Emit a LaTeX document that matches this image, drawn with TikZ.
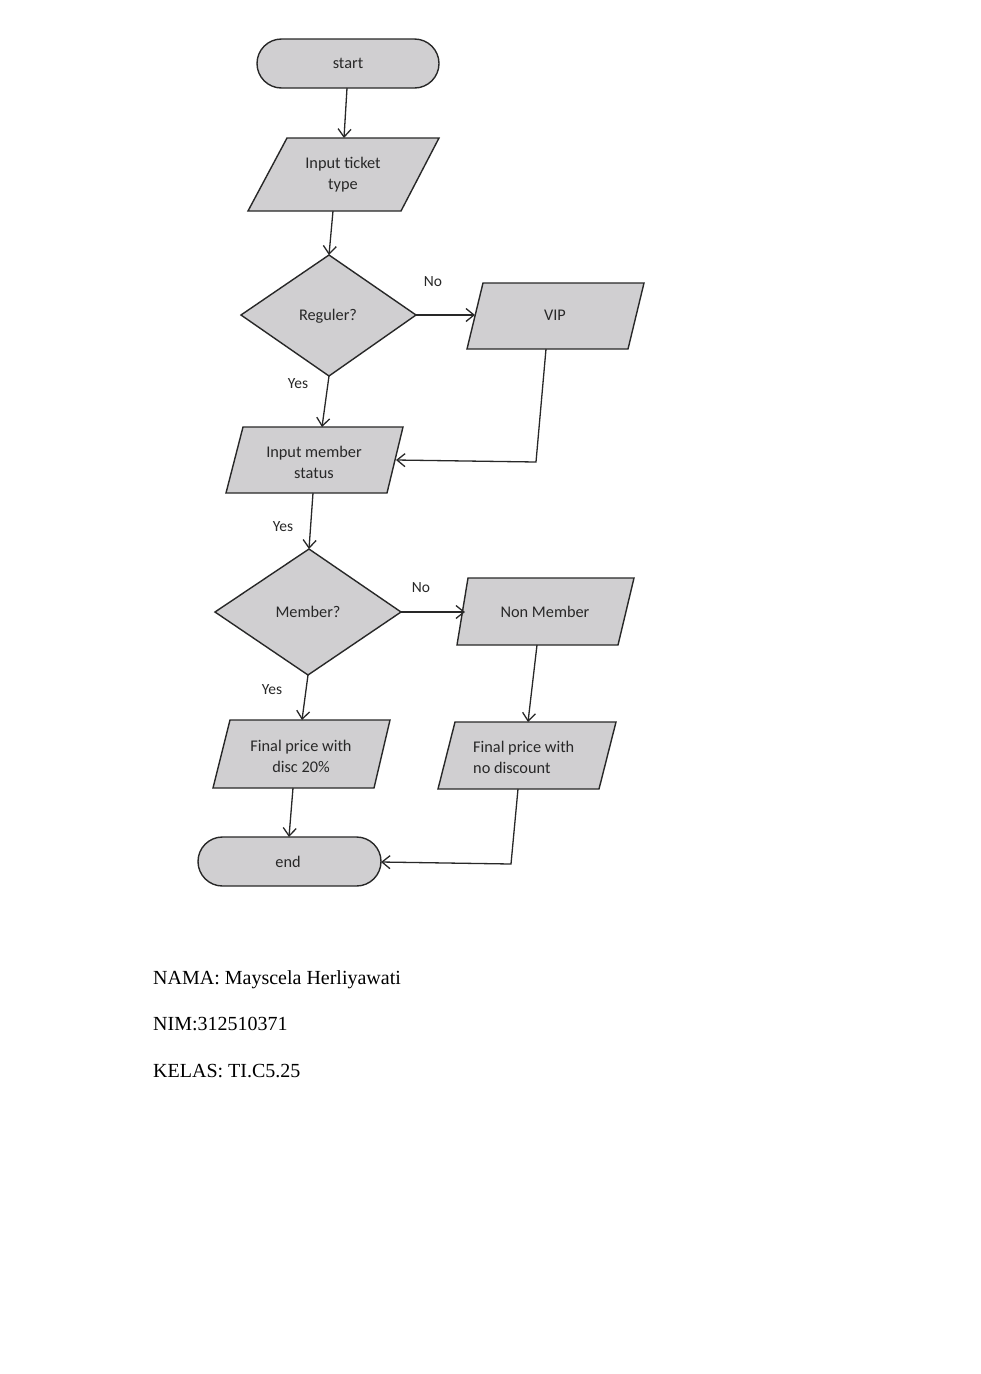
\documentclass[tikz,border=0pt]{standalone}
\usepackage{fontspec}
\setmainfont{Carlito}
\newfontfamily\tnr{Liberation Serif}
\usetikzlibrary{arrows.meta}
\definecolor{boxfill}{RGB}{208,207,209}
\definecolor{ink}{RGB}{40,40,40}
\tikzset{
  shapebox/.style={fill=boxfill, draw=ink, line width=1.4pt, line join=miter},
  conn/.style={draw=ink, line width=1.3pt, -{Straight Barb[length=8pt,width=13pt,line width=1.3pt]}},
  plainconn/.style={draw=ink, line width=1.3pt},
  lbl/.style={text=ink, font=\fontsize{16.3}{21}\selectfont, align=center, inner sep=0pt},
  lbll/.style={text=ink, font=\fontsize{16.3}{21}\selectfont, align=left, inner sep=0pt},
  edgelbl/.style={text=ink, font=\fontsize{15.5}{19}\selectfont, inner sep=0pt},
  info/.style={text=black, font=\tnr\fontsize{20}{24}\selectfont, anchor=base west, inner sep=0pt}
}
\begin{document}
\begin{tikzpicture}[x=1pt,y=-1pt]
\useasboundingbox[fill=white] (0,0) rectangle (981,1374);

% start
\draw[shapebox, rounded corners=24.5pt] (257,39) rectangle (439,88);
\node[lbl] (start) at (348,63) {start};
\coordinate (start-b) at (347,88);

% input ticket type
\draw[shapebox] (287,138) -- (439,138) -- (401,211) -- (248,211) -- cycle;
\node[lbl] (inticket) at (343,175) {Input ticket\\type};
\coordinate (inticket-t) at (344,138);
\coordinate (inticket-b) at (333,211);

% Reguler?
\draw[shapebox] (329,255) -- (416,315) -- (329,376) -- (241,315) -- cycle;
\node[lbl] (reguler) at (328,316) {Reguler?};
\coordinate (reguler-t) at (329,255);
\coordinate (reguler-r) at (416,315);
\coordinate (reguler-b) at (329,376);

% VIP
\draw[shapebox] (483,283) -- (644,283) -- (628,349) -- (467,349) -- cycle;
\node[lbl] (vip) at (555,315) {VIP};
\coordinate (vip-l) at (475,315);
\coordinate (vip-b) at (546,349);
\coordinate (vip-corner) at (536,462);

% Input member status
\draw[shapebox] (243,427) -- (403,427) -- (387,493) -- (226,493) -- cycle;
\node[lbl] (inmember) at (314,462) {Input member\\status};
\coordinate (inmember-t) at (322,427);
\coordinate (inmember-r) at (396,460);
\coordinate (inmember-b) at (313,493);

% Member?
\draw[shapebox] (309,549) -- (401,612) -- (308,675) -- (215,612) -- cycle;
\node[lbl] (member) at (308,612) {Member?};
\coordinate (member-t) at (309,549);
\coordinate (member-r) at (401,612);
\coordinate (member-b) at (308,675);

% Non Member
\draw[shapebox] (468,578) -- (634,578) -- (618,645) -- (457,645) -- cycle;
\node[lbl] (nonmember) at (545,612) {Non Member};
\coordinate (nonmember-l) at (465,612);
\coordinate (nonmember-b) at (537,645);

% Final price with disc 20%
\draw[shapebox] (230,720) -- (390,720) -- (374,788) -- (213,788) -- cycle;
\node[lbl] (disc) at (301,756) {Final price with\\disc 20\%};
\coordinate (disc-t) at (302,720);
\coordinate (disc-b) at (293,788);

% Final price with no discount
\draw[shapebox] (455,722) -- (616,722) -- (599,789) -- (438,789) -- cycle;
\node[lbll, anchor=west] (nodisc) at (473,757) {Final price with\\no discount};
\coordinate (nodisc-t) at (528,722);
\coordinate (nodisc-b) at (518,789);
\coordinate (nodisc-corner) at (511,864);

% end
\draw[shapebox, rounded corners=24.5pt] (198,837) rectangle (381,886);
\node[lbl] (endnode) at (288,862) {end};
\coordinate (end-t) at (289,837);
\coordinate (end-r) at (381,862);

% connectors
\draw[conn] (start-b) -- (inticket-t);
\draw[conn] (inticket-b) -- (reguler-t);
\draw[conn] (reguler-r) -- (vip-l);
\draw[conn] (reguler-b) -- (inmember-t);
\draw[conn] (vip-b) -- (vip-corner) -- (inmember-r);
\draw[conn] (inmember-b) -- (member-t);
\draw[conn] (member-r) -- (nonmember-l);
\draw[conn] (member-b) -- (disc-t);
\draw[conn] (nonmember-b) -- (nodisc-t);
\draw[conn] (disc-b) -- (end-t);
\draw[conn] (nodisc-b) -- (nodisc-corner) -- (end-r);

% edge labels
\node[edgelbl] (no1) at (433,282) {No};
\node[edgelbl] (yes1) at (298,384) {Yes};
\node[edgelbl] (yes2) at (283,527) {Yes};
\node[edgelbl] (no2) at (421,588) {No};
\node[edgelbl] (yes3) at (272,690) {Yes};

% info text
\node[info] (nama) at (153,984) {NAMA: Mayscela Herliyawati};
\node[info] (nim) at (153,1030) {NIM:312510371};
\node[info] (kelas) at (153,1077) {KELAS: TI.C5.25};
\end{tikzpicture}
\end{document}
